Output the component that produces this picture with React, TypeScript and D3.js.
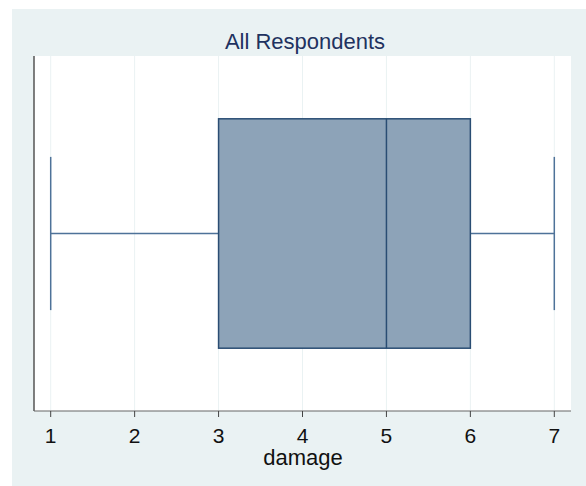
import React from "react";
import * as d3 from "d3";

const title = "All Respondents";
const xLabel = "damage";
const xTicks = [1, 2, 3, 4, 5, 6, 7];
const boxStats = { min: 1, q1: 3, median: 5, q3: 6, max: 7 };
const categories = ["damage"];

const W = 586;
const H = 486;
const plot = { left: 34, right: 571, top: 56, bottom: 411 };

export default function App() {
  const x = d3.scaleLinear().domain([1, 7]).range([50.7, 554.3]);
  const y = d3
    .scaleBand()
    .domain(categories)
    .range([plot.top, plot.bottom])
    .paddingInner(0)
    .paddingOuter(0.2738);
  const bandTop = y(categories[0])!;
  const bw = y.bandwidth();
  const yc = bandTop + bw / 2;
  const capHalf = bw * 0.334;
  const font = "Arial, 'Liberation Sans', Helvetica, sans-serif";

  return (
    <svg
      width={W}
      height={H}
      style={{ position: "absolute", left: 0, top: 0 }}
      fontFamily={font}
    >
      <rect x={12} y={9} width={W - 12} height={H - 9} fill="#EAF2F3" />
      <rect
        x={plot.left}
        y={plot.top}
        width={plot.right - plot.left}
        height={plot.bottom - plot.top}
        fill="#ffffff"
      />
      {xTicks.map((t) => (
        <line
          key={"g" + t}
          x1={x(t)}
          x2={x(t)}
          y1={plot.top}
          y2={plot.bottom}
          stroke="#EAF2F3"
          strokeWidth={1}
        />
      ))}
      {/* whiskers */}
      <line
        x1={x(boxStats.min)}
        x2={x(boxStats.q1)}
        y1={yc}
        y2={yc}
        stroke="#4e7299"
        strokeWidth={1.5}
      />
      <line
        x1={x(boxStats.q3)}
        x2={x(boxStats.max)}
        y1={yc}
        y2={yc}
        stroke="#4e7299"
        strokeWidth={1.5}
      />
      <line
        x1={x(boxStats.min)}
        x2={x(boxStats.min)}
        y1={yc - capHalf}
        y2={yc + capHalf}
        stroke="#4e7299"
        strokeWidth={1.5}
      />
      <line
        x1={x(boxStats.max)}
        x2={x(boxStats.max)}
        y1={yc - capHalf}
        y2={yc + capHalf}
        stroke="#4e7299"
        strokeWidth={1.5}
      />
      {/* box */}
      <rect
        x={x(boxStats.q1)}
        y={bandTop}
        width={x(boxStats.q3) - x(boxStats.q1)}
        height={bw}
        fill="#8DA3B8"
        stroke="#2a4d73"
        strokeWidth={1.5}
      />
      <line
        x1={x(boxStats.median)}
        x2={x(boxStats.median)}
        y1={bandTop}
        y2={bandTop + bw}
        stroke="#2a4d73"
        strokeWidth={1.5}
      />
      {/* axes */}
      <line
        x1={plot.left}
        x2={plot.left}
        y1={plot.top}
        y2={plot.bottom}
        stroke="#555555"
        strokeWidth={1.5}
      />
      <line
        x1={plot.left}
        x2={plot.right}
        y1={plot.bottom}
        y2={plot.bottom}
        stroke="#666666"
        strokeWidth={1.2}
      />
      {xTicks.map((t) => (
        <g key={"t" + t}>
          <line
            x1={x(t)}
            x2={x(t)}
            y1={plot.bottom}
            y2={plot.bottom + 6}
            stroke="#444444"
            strokeWidth={1}
          />
          <text
            x={x(t)}
            y={443}
            textAnchor="middle"
            fontSize={21}
            fill="#111111"
          >
            {t}
          </text>
        </g>
      ))}
      <text x={303} y={465} textAnchor="middle" fontSize={22} fill="#111111">
        {xLabel}
      </text>
      <text x={305} y={49} textAnchor="middle" fontSize={22} fill="#1f3260">
        {title}
      </text>
    </svg>
  );
}
